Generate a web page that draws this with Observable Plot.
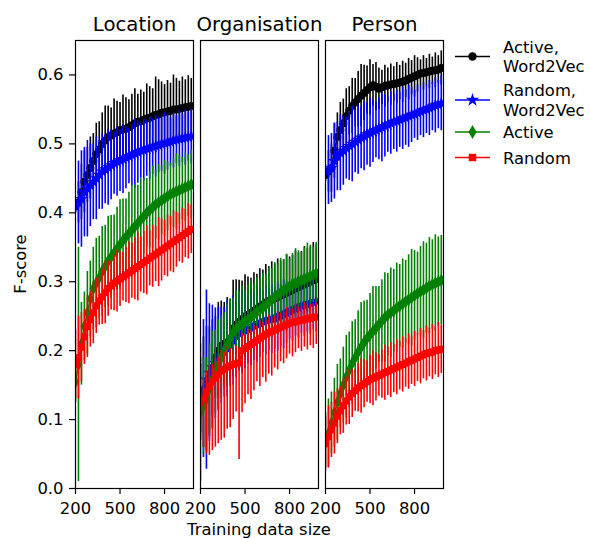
<!DOCTYPE html>
<html><head><meta charset="utf-8">
<script src="https://cdn.jsdelivr.net/npm/d3@7"></script>
<script src="https://cdn.jsdelivr.net/npm/@observablehq/plot@0.6"></script>
<style>body{margin:0;background:#fff;font-family:"DejaVu Sans",sans-serif}</style>
</head><body><div id="chart"></div>
<script>
const facets = ["Location", "Organisation", "Person"];
const seriesNames = ["Active, Word2Vec", "Random, Word2Vec", "Active", "Random"];
const legendLines = [["Active,", "Word2Vec"], ["Random,", "Word2Vec"], ["Active"], ["Random"]];
const colors = ["#000000", "#0000ff", "#008000", "#ff0000"];
const symbols = ["circle", "star", "diamond", "square"];
const sizes = [200,220,240,260,280,300,320,340,360,380,400,420,440,460,480,500,520,540,560,580,600,620,640,660,680,700,720,740,760,780,800,820,840,860,880,900,920,940,960,980];
const yTicks = [0.0, 0.1, 0.2, 0.3, 0.4, 0.5, 0.6];
const xTicks = [200, 500, 800];

// Location
const locAW = [0.410,0.415,0.430,0.445,0.455,0.465,0.475,0.485,0.492,0.500, 0.505,0.510,0.512,0.515,0.517,0.520,0.521,0.522,0.524,0.527, 0.530,0.532,0.533,0.535,0.537,0.538,0.540,0.542,0.543,0.545, 0.546,0.547,0.548,0.550,0.550,0.551,0.552,0.553,0.554,0.555];
const locAWErr = [0.010,0.030,0.040,0.045,0.040,0.045,0.040,0.045,0.040,0.045, 0.050,0.045,0.040,0.050,0.045,0.040,0.050,0.045,0.040,0.045, 0.050,0.040,0.045,0.040,0.050,0.045,0.040,0.055,0.050,0.045, 0.040,0.045,0.040,0.050,0.045,0.040,0.045,0.040,0.045,0.040];
const locRW = [0.410,0.415,0.420,0.430,0.435,0.440,0.445,0.450,0.455,0.460, 0.463,0.466,0.469,0.472,0.474,0.476,0.478,0.480,0.482,0.484, 0.486,0.488,0.490,0.491,0.493,0.494,0.496,0.497,0.498,0.500, 0.501,0.502,0.503,0.505,0.506,0.507,0.508,0.509,0.510,0.511];
const locRWErr = [0.010,0.060,0.070,0.065,0.070,0.060,0.055,0.060,0.050,0.055, 0.050,0.055,0.050,0.045,0.050,0.045,0.050,0.045,0.040,0.045, 0.050,0.045,0.040,0.045,0.040,0.045,0.040,0.045,0.040,0.040, 0.045,0.040,0.035,0.040,0.035,0.040,0.035,0.040,0.035,0.040];
const locA = [0.155,0.180,0.210,0.235,0.255,0.275,0.290,0.298,0.306,0.315, 0.322,0.330,0.336,0.342,0.348,0.354,0.360,0.365,0.370,0.375, 0.380,0.385,0.390,0.395,0.400,0.404,0.408,0.412,0.415,0.418, 0.421,0.424,0.427,0.429,0.431,0.433,0.435,0.437,0.439,0.441];
const locAErr = [0.030,0.170,0.060,0.050,0.060,0.055,0.060,0.065,0.060,0.065, 0.060,0.065,0.060,0.055,0.060,0.065,0.060,0.055,0.060,0.065, 0.060,0.055,0.060,0.055,0.050,0.055,0.060,0.050,0.055,0.050, 0.055,0.050,0.045,0.050,0.055,0.050,0.045,0.050,0.045,0.050];
const locR = [0.180,0.190,0.205,0.220,0.235,0.245,0.255,0.265,0.272,0.278, 0.284,0.290,0.294,0.298,0.301,0.304,0.307,0.310,0.313,0.316, 0.319,0.322,0.325,0.328,0.331,0.334,0.337,0.340,0.343,0.346, 0.349,0.352,0.355,0.358,0.361,0.364,0.367,0.370,0.373,0.376];
const locRErr = [0.050,0.060,0.050,0.040,0.045,0.040,0.045,0.040,0.035,0.040, 0.045,0.040,0.035,0.040,0.045,0.040,0.035,0.040,0.045,0.040, 0.045,0.050,0.040,0.045,0.050,0.040,0.045,0.040,0.050,0.045, 0.040,0.045,0.040,0.045,0.040,0.035,0.040,0.035,0.040,0.035];

// Organisation
const orgAW = [0.130,0.140,0.145,0.155,0.175,0.190,0.200,0.207,0.210,0.212, 0.215,0.232,0.238,0.242,0.246,0.250,0.252,0.255,0.258,0.261, 0.264,0.267,0.270,0.272,0.274,0.276,0.278,0.280,0.282,0.284, 0.286,0.288,0.290,0.292,0.294,0.296,0.298,0.300,0.302,0.304];
const orgAWErr = [0.050,0.080,0.090,0.080,0.070,0.060,0.070,0.065,0.060,0.065, 0.060,0.070,0.065,0.060,0.055,0.060,0.055,0.050,0.055,0.050, 0.055,0.050,0.055,0.050,0.055,0.050,0.055,0.050,0.050,0.055, 0.050,0.050,0.055,0.050,0.050,0.055,0.050,0.050,0.055,0.050];
const orgRW = [0.130,0.145,0.158,0.168,0.176,0.182,0.188,0.193,0.198,0.203, 0.208,0.215,0.221,0.225,0.227,0.229,0.231,0.233,0.236,0.238, 0.240,0.242,0.244,0.245,0.246,0.247,0.249,0.251,0.253,0.255, 0.257,0.259,0.261,0.263,0.265,0.266,0.267,0.269,0.270,0.272];
const orgRWErr = [0.060,0.100,0.130,0.100,0.090,0.080,0.075,0.070,0.065,0.070, 0.060,0.065,0.060,0.055,0.060,0.055,0.050,0.055,0.050,0.055, 0.050,0.045,0.050,0.045,0.050,0.045,0.050,0.045,0.050,0.045, 0.040,0.045,0.040,0.045,0.040,0.045,0.040,0.045,0.040,0.045];
const orgA = [0.110,0.120,0.130,0.145,0.158,0.170,0.180,0.190,0.200,0.208, 0.218,0.226,0.232,0.236,0.239,0.242,0.245,0.248,0.252,0.256, 0.259,0.262,0.266,0.270,0.274,0.278,0.281,0.284,0.287,0.290, 0.293,0.296,0.298,0.300,0.302,0.304,0.306,0.308,0.310,0.312];
const orgAErr = [0.100,0.070,0.060,0.065,0.070,0.060,0.065,0.060,0.055,0.060, 0.055,0.050,0.055,0.050,0.055,0.045,0.050,0.055,0.045,0.050, 0.045,0.050,0.045,0.050,0.045,0.050,0.045,0.050,0.045,0.050, 0.040,0.045,0.050,0.045,0.040,0.045,0.050,0.045,0.040,0.045];
const orgR = [0.125,0.130,0.140,0.148,0.155,0.160,0.165,0.170,0.173,0.176, 0.178,0.180,0.181,0.182,0.200,0.203,0.206,0.209,0.212,0.215, 0.218,0.221,0.224,0.226,0.228,0.230,0.232,0.234,0.236,0.238, 0.240,0.241,0.242,0.243,0.244,0.245,0.246,0.247,0.248,0.249];
const orgRErrDown = [0.040,0.070,0.090,0.100,0.100,0.100,0.100,0.100,0.100,0.090, 0.090,0.080,0.070,0.140,0.090,0.080,0.070,0.080,0.070,0.060, 0.070,0.060,0.070,0.060,0.065,0.055,0.060,0.050,0.055,0.050, 0.045,0.050,0.045,0.040,0.045,0.040,0.045,0.040,0.045,0.040];
const orgRErrUp = [0.020,0.030,0.030,0.030,0.025,0.030,0.025,0.030,0.025,0.030, 0.025,0.020,0.025,0.020,0.025,0.020,0.025,0.020,0.025,0.020, 0.025,0.020,0.020,0.025,0.020,0.020,0.025,0.020,0.020,0.025, 0.020,0.020,0.025,0.020,0.020,0.025,0.020,0.020,0.020,0.020];

// Person
const perAW = [0.455,0.460,0.465,0.490,0.510,0.520,0.530,0.540,0.548,0.555, 0.560,0.565,0.570,0.574,0.578,0.582,0.585,0.583,0.580,0.582, 0.584,0.585,0.586,0.587,0.588,0.589,0.590,0.592,0.594,0.596, 0.598,0.600,0.602,0.603,0.604,0.605,0.606,0.607,0.608,0.610];
const perAWErr = [0.010,0.030,0.035,0.040,0.035,0.040,0.035,0.040,0.035,0.040, 0.035,0.040,0.045,0.040,0.035,0.040,0.030,0.035,0.030,0.025, 0.030,0.025,0.030,0.025,0.030,0.025,0.030,0.025,0.030,0.025, 0.030,0.025,0.020,0.025,0.020,0.025,0.020,0.025,0.020,0.025];
const perRW = [0.460,0.462,0.465,0.475,0.482,0.487,0.490,0.494,0.497,0.500, 0.503,0.506,0.509,0.511,0.514,0.516,0.518,0.520,0.522,0.524, 0.526,0.528,0.530,0.532,0.533,0.535,0.537,0.538,0.540,0.542, 0.543,0.545,0.547,0.549,0.550,0.552,0.554,0.556,0.557,0.559];
const perRWErr = [0.010,0.050,0.050,0.055,0.050,0.055,0.050,0.045,0.050,0.055, 0.045,0.050,0.045,0.050,0.045,0.050,0.045,0.040,0.045,0.050, 0.045,0.040,0.045,0.040,0.045,0.040,0.045,0.040,0.045,0.040, 0.035,0.040,0.035,0.040,0.035,0.040,0.035,0.040,0.035,0.040];
const perA = [0.070,0.080,0.095,0.110,0.125,0.138,0.150,0.162,0.172,0.182, 0.190,0.198,0.205,0.212,0.218,0.223,0.228,0.233,0.238,0.243, 0.248,0.252,0.255,0.258,0.262,0.265,0.268,0.271,0.274,0.277, 0.280,0.283,0.286,0.288,0.291,0.294,0.296,0.298,0.300,0.302];
const perAErr = [0.040,0.050,0.045,0.050,0.055,0.050,0.055,0.060,0.055,0.060, 0.055,0.060,0.065,0.060,0.055,0.060,0.065,0.060,0.055,0.060, 0.065,0.060,0.065,0.060,0.065,0.060,0.065,0.060,0.065,0.070, 0.065,0.060,0.065,0.070,0.065,0.070,0.065,0.070,0.065,0.065];
const perR = [0.065,0.075,0.085,0.095,0.105,0.113,0.120,0.127,0.133,0.138, 0.142,0.146,0.149,0.152,0.155,0.158,0.160,0.162,0.164,0.166, 0.168,0.170,0.172,0.174,0.176,0.178,0.180,0.182,0.184,0.186, 0.188,0.190,0.192,0.194,0.196,0.197,0.198,0.200,0.201,0.202];
const perRErr = [0.040,0.045,0.040,0.045,0.040,0.035,0.040,0.035,0.040,0.035, 0.030,0.035,0.040,0.035,0.030,0.035,0.040,0.035,0.030,0.035, 0.040,0.035,0.040,0.035,0.040,0.035,0.040,0.035,0.040,0.035, 0.040,0.035,0.040,0.035,0.040,0.035,0.040,0.035,0.040,0.035];

const means = [[locAW, locRW, locA, locR], [orgAW, orgRW, orgA, orgR], [perAW, perRW, perA, perR]];
const errsDown = [[locAWErr, locRWErr, locAErr, locRErr], [orgAWErr, orgRWErr, orgAErr, orgRErrDown], [perAWErr, perRWErr, perAErr, perRErr]];
const errsUp = [[locAWErr, locRWErr, locAErr, locRErr], [orgAWErr, orgRWErr, orgAErr, orgRErrUp], [perAWErr, perRWErr, perAErr, perRErr]];

const rows = [];
facets.forEach((f, fi) => seriesNames.forEach((s, si) => sizes.forEach((x, i) => {
  const y = means[fi][si][i];
  rows.push({facet: f, series: s, si, x, y, lo: y - errsDown[fi][si][i], hi: y + errsUp[fi][si][i]});
})));

const FS = 16.4;
const marks = [];
seriesNames.forEach((s, si) => {
  const d = rows.filter(r => r.si === si);
  marks.push(Plot.ruleX(d, {x: "x", y1: "lo", y2: "hi", fx: "facet", stroke: colors[si], strokeWidth: 1.6, clip: true}));
  marks.push(Plot.line(d, {x: "x", y: "y", fx: "facet", z: "facet", stroke: colors[si], strokeWidth: 1.6, clip: true}));
  marks.push(Plot.dot(d, {x: "x", y: "y", fx: "facet", symbol: () => symbols[si], r: 4, fill: colors[si], stroke: "none", clip: true}));
});

const chart = Plot.plot({
  width: 590, height: 538,
  marginLeft: 75, marginRight: 147, marginTop: 40, marginBottom: 50,
  style: {fontFamily: "DejaVu Sans", background: "white", color: "black", overflow: "visible"},
  fx: {domain: facets, paddingInner: 0.056, paddingOuter: 0, round: false, axis: null},
  x: {domain: [200, 995]},
  y: {domain: [0, 0.65]},
  symbol: {type: "identity"},
  marks: [
    ...marks,
    Plot.frame({stroke: "black", strokeWidth: 1.2}),
    Plot.axisY({ticks: yTicks, tickFormat: d3.format(".1f"), tickSize: 6, tickPadding: 6, fontSize: FS, label: null, strokeWidth: 1.2}),
    Plot.axisX({ticks: xTicks, tickFormat: d => String(d), tickSize: 6, tickPadding: 8, fontSize: FS, label: null, strokeWidth: 1.2}),
    Plot.text(facets, {fx: d => d, text: d => d, frameAnchor: "top", dy: -10, lineAnchor: "bottom", fontSize: 19.7, fill: "black"})
  ]
});
document.getElementById("chart").appendChild(chart);

const svg = d3.select(chart);
svg.append("text").attr("x", 259).attr("y", 535).attr("text-anchor", "middle")
  .attr("font-size", FS).attr("fill", "black").text("Training data size");
svg.append("text").attr("transform", "translate(26,264) rotate(-90)").attr("text-anchor", "middle")
  .attr("font-size", FS).attr("fill", "black").text("F-score");

// legend
const legY = [56.5, 100, 132, 157.5];
const symMap = {circle: d3.symbolCircle, star: d3.symbolStar, diamond: d3.symbolDiamond, square: d3.symbolSquare};
const lg = svg.append("g").attr("text-anchor", "start");
seriesNames.forEach((s, si) => {
  const y = legY[si];
  lg.append("line").attr("x1", 455).attr("x2", 490).attr("y1", y).attr("y2", y)
    .attr("stroke", colors[si]).attr("stroke-width", 1.6);
  lg.append("path").attr("d", d3.symbol(symMap[symbols[si]], Math.PI * 4.2 * 4.2)())
    .attr("transform", `translate(472.5,${y})`).attr("fill", colors[si]);
  const lines = legendLines[si];
  const t = lg.append("text").attr("font-size", FS).attr("fill", "black").attr("text-anchor", "start");
  lines.forEach((ln, li) => {
    const base = y + 6 - (lines.length - 1) * 9.7 + li * 19.4;
    t.append("tspan").attr("x", 503).attr("y", base).text(ln);
  });
});
</script></body></html>
